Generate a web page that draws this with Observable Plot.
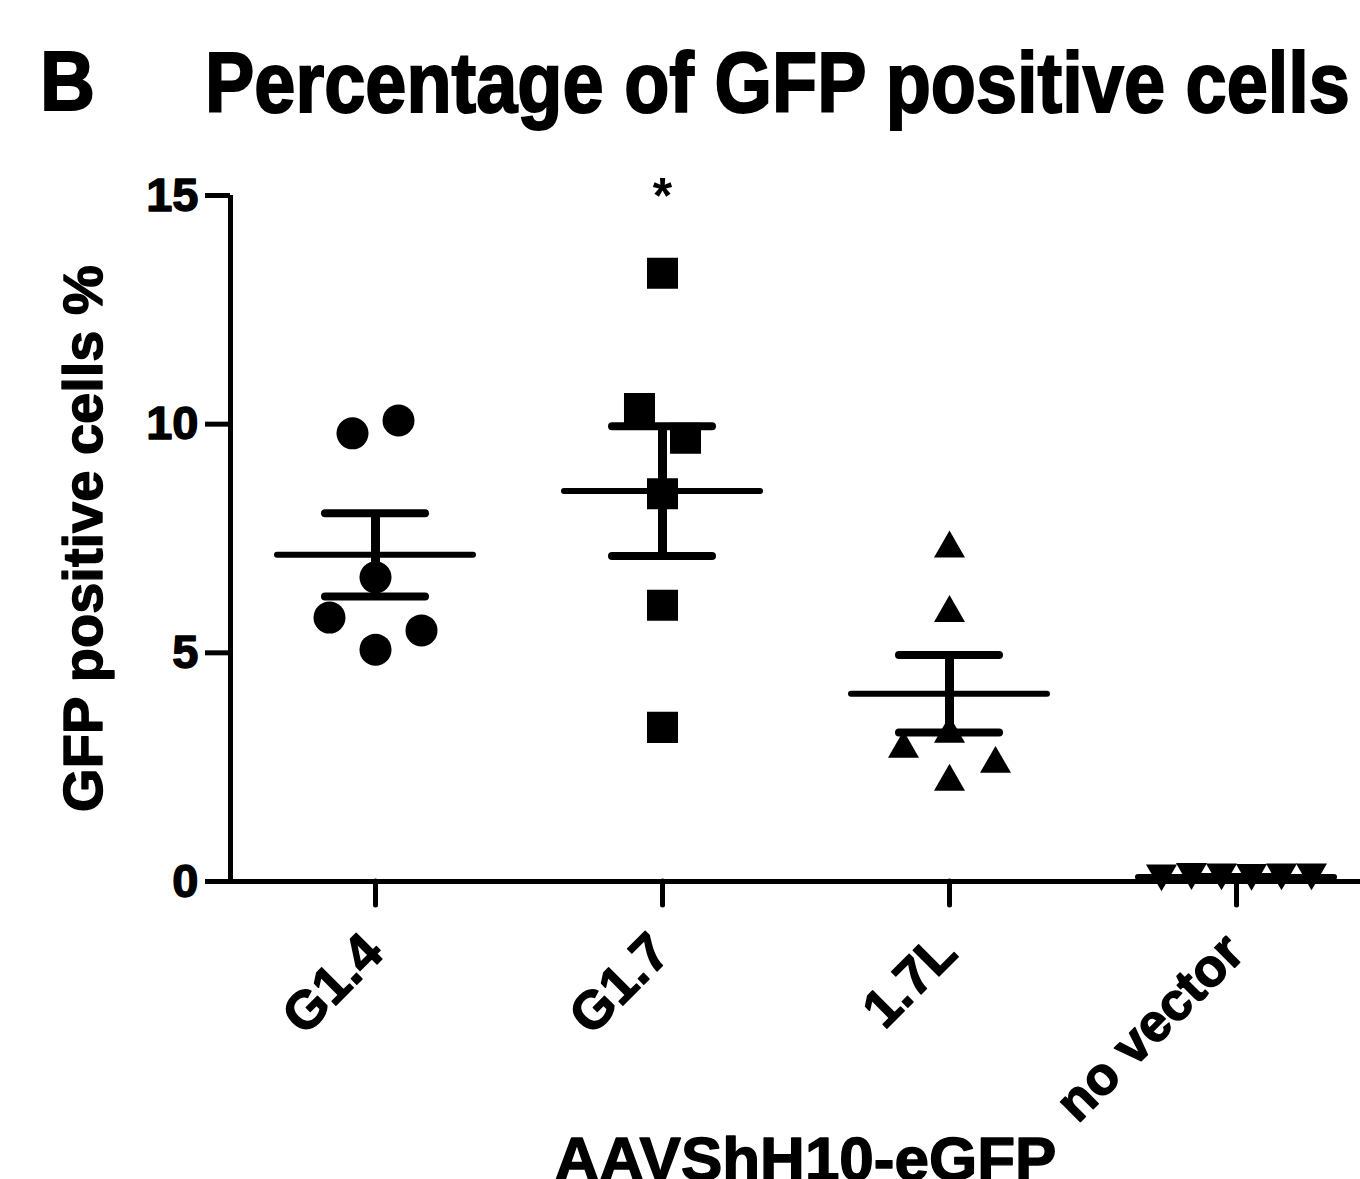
<!DOCTYPE html>
<html>
<head>
<meta charset="utf-8">
<script src="https://cdn.jsdelivr.net/npm/d3@7"></script>
<script src="https://cdn.jsdelivr.net/npm/@observablehq/plot@0.6"></script>
<style>
  html, body { margin: 0; padding: 0; background: #fff; }
  #wrap { position: relative; width: 1360px; height: 1179px; overflow: hidden; background: #fff;
          font-family: "Liberation Sans", Arial, sans-serif; font-weight: bold; color: #000; }
  #wrap svg { position: absolute; left: 0; top: 0; }
  .ttl { position: absolute; white-space: nowrap; line-height: 1; transform-origin: 0 0; z-index: 2;
         -webkit-text-stroke: 2px #000; }
</style>
</head>
<body>
<div id="wrap"></div>
<script>
// ---------- data ----------
const categories = ["G1.4", "G1.7", "1.7L", "no vector"];
const g14 = [5.07, 5.49, 5.77, 6.65, 9.80, 10.08];
const g17 = [13.30, 10.34, 9.69, 8.48, 6.04, 3.37];
const l17 = [2.28, 2.67, 3.00, 3.33, 5.97, 7.38];
const noVector = [0.10, 0.09, 0.11, 0.10, 0.08, 0.10];
const yTicks = [0, 5, 10, 15];
const significance = ["", "*", "", ""];
const panelLetter = "B";
const chartTitle = "Percentage of GFP positive cells";
const yTitle = "GFP positive cells %";
const xTitle = "AAVShH10-eGFP";

// ---------- layout ----------
const W = 1360, H = 1179;
const mL = 230, mR = 0, mT = 195, mB = 298;
const step = 287, firstCenter = 375;           // px between category columns
const xDomain = [(mL - firstCenter) / step, (W - mR - firstCenter) / step];
const yMax = 15;
const pxPerY = (H - mT - mB) / yMax;

// GraphPad-like scatter: greedy column placement, clusters recentred
function scatterOffsets(values) {
  const s = 46, d = 38, maxHalf = 75;
  const placed = [];
  const cands = [0];
  for (let k = 1; k < 10; k++) cands.push(k * s, -k * s);
  values.forEach(v => {
    for (const c of cands) {
      if (!placed.some(p => Math.abs(p.off - c) < s / 2 && Math.abs(p.v - v) * pxPerY < d)) {
        placed.push({v, off: c});
        break;
      }
    }
  });
  const order = d3.range(values.length).sort((a, b) => values[a] - values[b]);
  const clusters = [];
  let cur = [order[0]];
  for (let k = 1; k < order.length; k++) {
    if ((values[order[k]] - values[order[k - 1]]) * pxPerY < d) cur.push(order[k]);
    else { clusters.push(cur); cur = [order[k]]; }
  }
  clusters.push(cur);
  const offs = placed.map(p => p.off);
  clusters.forEach(cl => {
    const m = d3.mean(cl, j => offs[j]);
    cl.forEach(j => offs[j] -= m);
    const mx = d3.max(cl, j => Math.abs(offs[j]));
    if (mx > maxHalf) cl.forEach(j => offs[j] *= maxHalf / mx);
  });
  return offs;
}

const groups = [g14, g17, l17, noVector];
const points = groups.map((vals, i) => {
  const offs = scatterOffsets(vals);
  return vals.map((v, j) => ({cat: categories[i], i, v, x: i + offs[j] / step}));
});
const stats = groups.map((vals, i) => ({
  i,
  mean: d3.mean(vals),
  sem: d3.deviation(vals) / Math.sqrt(vals.length)
}));
const meanHalf = 98 / step, capHalf = 50 / step;

// symbols (bounding-box centred triangles)
const triUp = {draw(ctx, size) {
  const w = Math.sqrt(size) / 2, h = w * Math.sqrt(3);
  ctx.moveTo(0, -h / 2); ctx.lineTo(w, h / 2); ctx.lineTo(-w, h / 2); ctx.closePath();
}};
const triDown = {draw(ctx, size) {
  const w = Math.sqrt(size) / 2, h = w * Math.sqrt(3);
  ctx.moveTo(0, h / 2); ctx.lineTo(w, -h / 2); ctx.lineTo(-w, -h / 2); ctx.closePath();
}};
const symbols = ["circle", "square", triUp, triDown];
const radii = [16, 17.5, 17.5, 17.5];

const heavy = {fill: "#000", stroke: "#000", strokeWidth: 1.4};

const chart = Plot.plot({
  width: W, height: H,
  marginLeft: mL, marginRight: mR, marginTop: mT, marginBottom: mB,
  x: {type: "linear", domain: xDomain, axis: null},
  y: {domain: [0, yMax], axis: null},
  style: {fontFamily: "'Liberation Sans', Arial, sans-serif", fontWeight: "bold", color: "#000", background: "transparent", overflow: "hidden"},
  marks: [
    // axes
    Plot.axisY({ticks: yTicks, tickSize: 25, strokeWidth: 5, label: null, tickFormat: () => ""}),
    Plot.text(yTicks, {y: d => d, frameAnchor: "left", textAnchor: "end", dx: -32, fontSize: 47, text: d => String(d), ...heavy}),
    Plot.ruleX([xDomain[0]], {y1: 0, y2: yMax, strokeWidth: 5}),
    Plot.ruleY([0], {strokeWidth: 5}),
    Plot.axisX({ticks: d3.range(categories.length), tickSize: 24, strokeWidth: 5, tickFormat: () => "", label: null, strokeLinecap: "round"}),
    Plot.text(categories, {x: (d, i) => i, frameAnchor: "bottom", text: d => d, rotate: -45, textAnchor: "end", dx: 10, dy: 74, fontSize: 53, ...heavy}),
    Plot.text([yTitle], {frameAnchor: "left", textAnchor: "middle", rotate: -90, dx: -146, fontSize: 56, ...heavy}),
    Plot.text([xTitle], {frameAnchor: "bottom", textAnchor: "middle", dx: 10, dy: 298, fontSize: 62, ...heavy}),
    // mean ± SEM
    Plot.ruleY(stats, {y: "mean", x1: d => d.i - meanHalf, x2: d => d.i + meanHalf, strokeWidth: 6, strokeLinecap: "round"}),
    Plot.ruleY(stats, {y: d => d.mean + d.sem, x1: d => d.i - capHalf, x2: d => d.i + capHalf, strokeWidth: 8, strokeLinecap: "round"}),
    Plot.ruleY(stats, {y: d => d.mean - d.sem, x1: d => d.i - capHalf, x2: d => d.i + capHalf, strokeWidth: 8, strokeLinecap: "round"}),
    Plot.ruleX(stats, {x: "i", y1: d => d.mean - d.sem, y2: d => d.mean + d.sem, strokeWidth: 9}),
    // points
    ...points.map((pts, k) => Plot.dot(pts, {x: "x", y: "v", symbol: symbols[k], r: radii[k], fill: "#000", stroke: "none"})),
    // significance
    Plot.text(significance.map((s, i) => ({s, i})).filter(d => d.s), {x: "i", y: () => yMax, text: "s", fontSize: 50, dy: 1, fill: "#000"})
  ]
});

const wrap = document.getElementById("wrap");
wrap.appendChild(chart);

function addTitle(text, left, baseline, size, targetWidth) {
  const el = document.createElement("div");
  el.className = "ttl";
  el.textContent = text;
  el.style.fontSize = size + "px";
  el.style.left = left + "px";
  el.style.top = (baseline - 0.8465 * size) + "px";
  wrap.appendChild(el);
  if (targetWidth) {
    const w = el.getBoundingClientRect().width;
    el.style.transform = `scaleX(${targetWidth / w})`;
  }
}
addTitle(panelLetter, 40, 110, 84, 55);
addTitle(chartTitle, 205, 112, 86, 1145);
</script>
</body>
</html>
